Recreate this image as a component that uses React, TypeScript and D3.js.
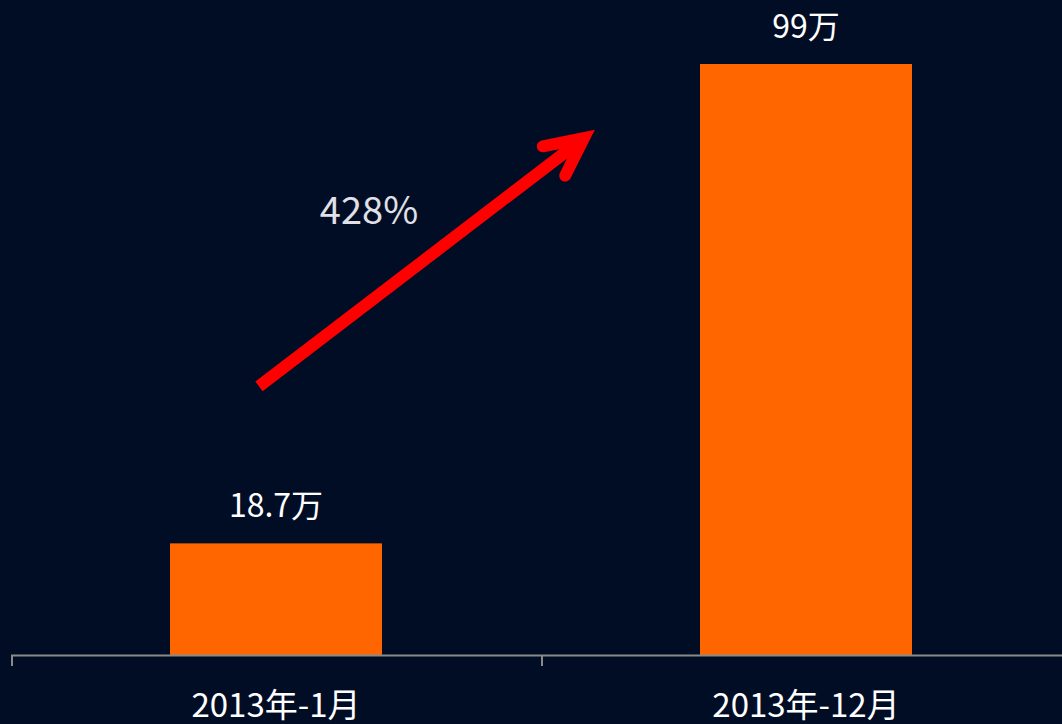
import React from "react";
import * as d3 from "d3";

const categories = ["2013年-1月", "2013年-12月"];
const values = [18.7, 99];
const valueLabels = ["18.7万", "99万"];
const growthLabel = "428%";

const W = 1062;
const H = 724;

export default function App() {
  const x = d3.scaleBand<string>().domain(categories).range([11, 1071]).paddingInner(0).paddingOuter(0);
  const y = d3.scaleLinear().domain([0, 99]).range([655, 64]);
  const step = x.step();
  const bw = step * 0.4;
  const cx = (c: string) => (x(c) as number) + step / 2;

  // annotation arrow, anchored on the scales
  const ax1 = cx(categories[0]) - 17;
  const ay1 = y(45);
  const ax2 = cx(categories[1]) - 222;
  const ay2 = y(86.6);
  const ang = Math.atan2(ay2 - ay1, ax2 - ax1);
  const headLen = 42;
  const spread = (26 * Math.PI) / 180;
  const h1 = [ax2 - headLen * Math.cos(ang - spread), ay2 - headLen * Math.sin(ang - spread)];
  const h2 = [ax2 - headLen * Math.cos(ang + spread), ay2 - headLen * Math.sin(ang + spread)];
  const shaftEnd = [ax2 - 8 * Math.cos(ang), ay2 - 8 * Math.sin(ang)];

  const font = "'Noto Sans CJK SC', 'Noto Sans', sans-serif";
  const ticks = [x.range()[0], ...categories.map((c) => (x(c) as number) + step)];

  return (
    <div style={{ position: "fixed", left: 0, top: 0, width: W, height: H }}>
      <svg width={W} height={H} style={{ display: "block" }}>
        <rect width={W} height={H} fill="#010d25" />
        {categories.map((c, i) => (
          <rect
            key={c}
            x={cx(c) - bw / 2}
            y={y(values[i])}
            width={bw}
            height={y(0) - y(values[i])}
            fill="#ff6600"
          />
        ))}
        <line x1={11} x2={W} y1={y(0) + 0.5} y2={y(0) + 0.5} stroke="#8a8a8a" strokeWidth={2} />
        {ticks.map((t, i) => (
          <line key={i} x1={t + 1} x2={t + 1} y1={y(0)} y2={y(0) + 11} stroke="#8a8a8a" strokeWidth={2} />
        ))}
        {categories.map((c, i) => (
          <text
            key={c}
            x={cx(c)}
            y={y(values[i]) - 26}
            textAnchor="middle"
            fill="#ffffff"
            fontFamily={font}
            fontSize={32}
          >
            {valueLabels[i]}
          </text>
        ))}
        {categories.map((c) => (
          <text key={c} x={cx(c)} y={717} textAnchor="middle" fill="#ffffff" fontFamily={font} fontSize={33}>
            {c}
          </text>
        ))}
        <line x1={ax1} y1={ay1} x2={shaftEnd[0]} y2={shaftEnd[1]} stroke="#ff0000" strokeWidth={12} />
        <polyline
          points={`${h1[0]},${h1[1]} ${ax2},${ay2} ${h2[0]},${h2[1]}`}
          fill="none"
          stroke="#ff0000"
          strokeWidth={12}
          strokeLinecap="round"
          strokeLinejoin="miter"
        />
        <text x={369} y={224} textAnchor="middle" fill="#e0e0e6" fontFamily={font} fontSize={38}>
          {growthLabel}
        </text>
      </svg>
    </div>
  );
}
